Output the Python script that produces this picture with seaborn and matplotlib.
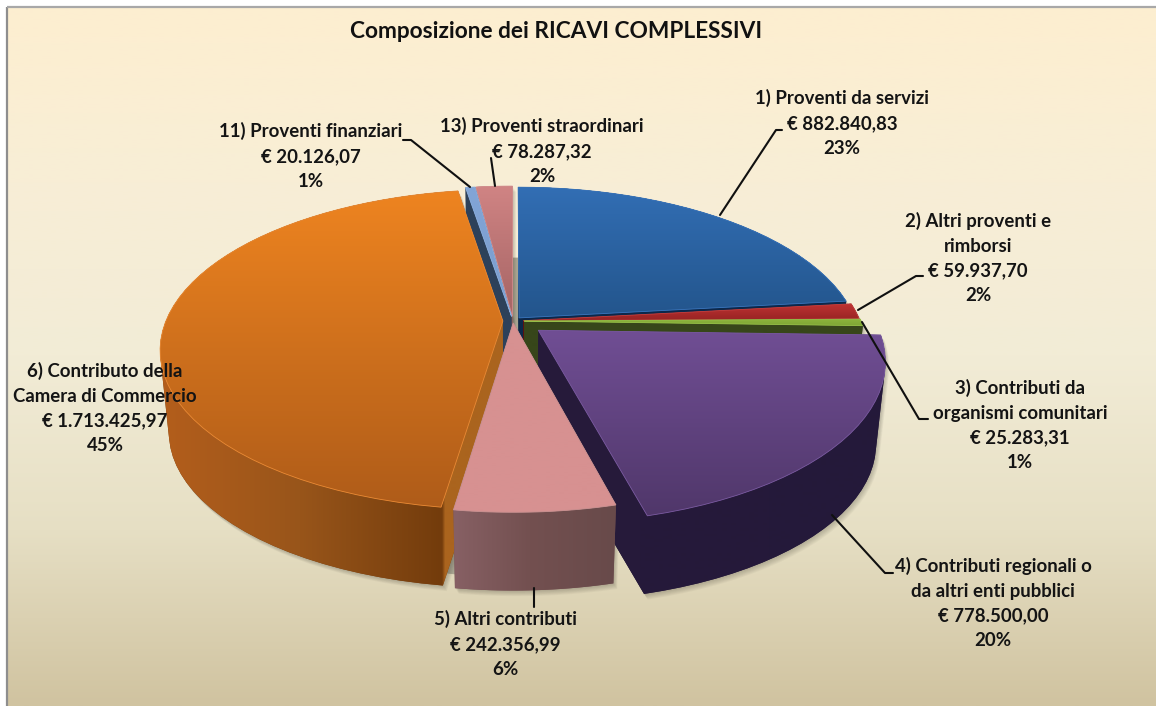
import numpy as np
import matplotlib
matplotlib.use("Agg")
import matplotlib.pyplot as plt
from matplotlib.patches import Polygon
from matplotlib.transforms import Transform
import seaborn as sns

# ---------- data ----------
names = ["1) Proventi da servizi", "2) Altri proventi e\nrimborsi",
         "3) Contributi da\norganismi comunitari",
         "4) Contributi regionali o\nda altri enti pubblici", "5) Altri contributi",
         "6) Contributo della\nCamera di Commercio", "11) Proventi finanziari",
         "13) Proventi straordinari"]
values = [882840.83, 59937.70, 25283.31, 778500.00, 242356.99, 1713425.97, 20126.07, 78287.32]
value_labels = ["€ 882.840,83", "€ 59.937,70", "€ 25.283,31", "€ 778.500,00",
                "€ 242.356,99", "€ 1.713.425,97", "€ 20.126,07", "€ 78.287,32"]
pct_labels = ["23%", "2%", "1%", "20%", "6%", "45%", "1%", "2%"]
title = "Composizione dei RICAVI COMPLESSIVI"

# ---------- style ----------
explode = [0.027, 0.03, 0.033, 0.095, 0.012, 0.03, 0.03, 0.03]
top_colors = [("#326EB4", "#23558C"), ("#BE3232", "#962323"), ("#8CB43C", "#7FA535"),
              ("#704E94", "#50376A"), ("#D79191", "#D79191"), ("#EE8420", "#AF5C19"),
              ("#82A5D7", "#7A9CCC"), ("#D08484", "#A56464")]
wall_stops = [[(0, "#0C284B"), (1156, "#0C284B")],
              [(0, "#5A1212"), (1156, "#5A1212")],
              [(0, "#37461A"), (1156, "#37461A")],
              [(0, "#2A1E3E"), (640, "#261A3A"), (1156, "#22183A")],
              [(454, "#876064"), (530, "#735050"), (615, "#684A4A")],
              [(160, "#B45E1C"), (300, "#98551A"), (442, "#733C0C"),
               (445, "#AA641E"), (510, "#AA641E")],
              [(0, "#2D415A"), (1156, "#2D415A")],
              [(0, "#965F5F"), (1156, "#965F5F")]]
rim_colors = ["#3A75BC", "#C24040", "#96BE48", "#7A5AA0", "#C79090", "#E98A35", "#8BAEDD", "#D59090"]
draw_order = [7, 6, 0, 1, 2, 5, 3, 4]
label_pos = [(842, 123), (978, 258), (1020, 425), (993, 603), (505, 644), (105, 408), (311, 156), (542, 151)]
leaders = [[(720, 215), (776, 130), (782, 130)], [(858, 310), (916, 276), (923, 276)],
           [(862, 322), (919, 419), (928, 419)], [(832, 515), (885, 573), (893, 573)],
           [(534, 588), (534, 607)], [], [(470, 187), (411, 140), (403, 140)],
           [(495, 186), (491, 158)]]

CX, CY, A, B, C, SCALE, DEPTH = 513.0, 321.0, 337.0, 155.0, 0.178, 0.975, 83.0


class Persp(Transform):
    """Tilted-plane projection of the unit pie into image pixels, at height z."""
    input_dims = output_dims = 2
    is_separable = False
    has_inverse = False

    def __init__(self, z=0.0):
        super().__init__()
        self.z = z

    def transform_non_affine(self, values):
        xy = np.asarray(values, dtype=float)
        u, v = xy[:, 0], xy[:, 1]
        w = 1 + C * v
        s = 1 - (1 - SCALE) * self.z
        return np.column_stack([CX + s * A * u / w, CY - s * B * v / w + DEPTH * self.z])


def hull(points):
    pts = sorted(set(map(tuple, np.round(points, 3))))
    def half(seq):
        out = []
        for p in seq:
            while len(out) > 1 and ((out[-1][0] - out[-2][0]) * (p[1] - out[-2][1])
                                    - (out[-1][1] - out[-2][1]) * (p[0] - out[-2][0])) <= 0:
                out.pop()
            out.append(p)
        return out[:-1]
    return np.array(half(pts) + half(pts[::-1]))


def outline(wedge, z):
    """True outline of the wedge: its Bezier segments evaluated, then projected."""
    t = np.linspace(0, 1, 14)
    poly = [curve(t) for curve, code in wedge.get_path().iter_bezier()
            if code != matplotlib.path.Path.MOVETO]
    return Persp(z).transform_non_affine(np.vstack(poly))


sns.set_theme(style="white")
plt.rcParams["font.family"] = ["Lato", "DejaVu Sans"]

fig = plt.figure(figsize=(11.56, 7.06), dpi=100, facecolor="white")
ax = fig.add_axes([0, 0, 1, 1])

# background
bg = sns.blend_palette(["#FDEED0", "#F8EED6", "#F2ECD6", "#E6DFC4", "#D0C3A0"], 256)
ax.imshow(np.array(bg)[:, None, :], extent=(7, 1156, 706, 7), aspect="auto", zorder=0,
          interpolation="bilinear")

kw = dict(explode=explode, startangle=90, counterclock=False, frame=True)
tops, _ = ax.pie(values, colors=[c[0] for c in top_colors], **kw)
bottoms, _ = ax.pie(values, colors=[c[1] for c in top_colors], **kw)

# ground shadow seen through the gaps between slices
for z, r in [(0.7, 0.93), (1.0, 0.95)]:
    sh, _ = ax.pie(values, colors=["#A8A490"] * len(values), startangle=90,
                   counterclock=False, radius=r, frame=True)
    for j, w in enumerate(sh):
        w.set_transform(Persp(z) + ax.transData)
        w.set_zorder(1)
        w.set_linewidth(0)
        if j == 3:
            w.set_visible(False)

xs = np.arange(0, 1157)
for rank, i in enumerate(draw_order):
    base = 10 + rank * 5
    top, bottom = tops[i], bottoms[i]
    bottom.set_visible(False)
    p_top, p_bot = outline(top, 0.0), outline(bottom, 1.0)
    h = hull(np.vstack([p_top, p_bot]))

    # soft shadow
    for k in range(1, 8):
        ax.add_patch(Polygon(h + [k * 0.55, k * 0.8], closed=True, facecolor="#3C3A30",
                             alpha=0.045, linewidth=0, zorder=2))

    # wall
    sx, sc = zip(*wall_stops[i])
    rgb = np.array([matplotlib.colors.to_rgb(c) for c in sc])
    wall = np.column_stack([np.interp(xs, sx, rgb[:, j]) for j in range(3)])[None, :, :]
    clip = Polygon(h, closed=True, facecolor=sc[len(sc) // 2], edgecolor="none",
                   linewidth=0, zorder=base)
    ax.add_patch(clip)
    im = ax.imshow(wall, extent=(0, 1156, 706, 0), aspect="auto", zorder=base + 1,
                   interpolation="bilinear")
    im.set_clip_path(clip)

    # top face
    top_poly = Polygon(p_top, closed=True, facecolor=top_colors[i][1], edgecolor="none",
                       linewidth=0, zorder=base + 2)
    ax.add_patch(top_poly)
    top.set_visible(False)
    y0, y1 = p_top[:, 1].min(), p_top[:, 1].max()
    grad = np.array(sns.blend_palette(list(top_colors[i]), 128))[:, None, :]
    im2 = ax.imshow(grad, extent=(0, 1156, y1, y0), aspect="auto", zorder=base + 3,
                    interpolation="bilinear")
    im2.set_clip_path(top_poly)
    ax.add_patch(Polygon(p_top, closed=True, facecolor="none", edgecolor=rim_colors[i],
                         linewidth=0.6, zorder=base + 4))

# frame
ax.plot([7, 7], [706, 7], color="#8E8E8E", lw=1.6, zorder=5, solid_capstyle="butt")
ax.plot([7, 1156], [7, 7], color="#A8A8A8", lw=1.6, zorder=5, solid_capstyle="butt")

# leaders and labels
for pts in leaders:
    if pts:
        ax.plot(*zip(*pts), color="#101010", lw=1.5, zorder=90, solid_joinstyle="round")
for name, val, pct, (x, y) in zip(names, value_labels, pct_labels, label_pos):
    ax.text(x, y, f"{name}\n{val}\n{pct}", ha="center", va="center", ma="center",
            fontsize=13.4, fontweight="bold", color="#141414", linespacing=1.55, zorder=100)
ax.text(556, 31.5, title, ha="center", va="center", fontsize=16.25, fontweight="bold",
        color="#111111", zorder=100)

ax.set_xlim(0, 1156)
ax.set_ylim(706, 0)
ax.set_aspect("auto")
ax.set_axis_off()
fig.savefig("out.png", dpi=100, facecolor="white")
